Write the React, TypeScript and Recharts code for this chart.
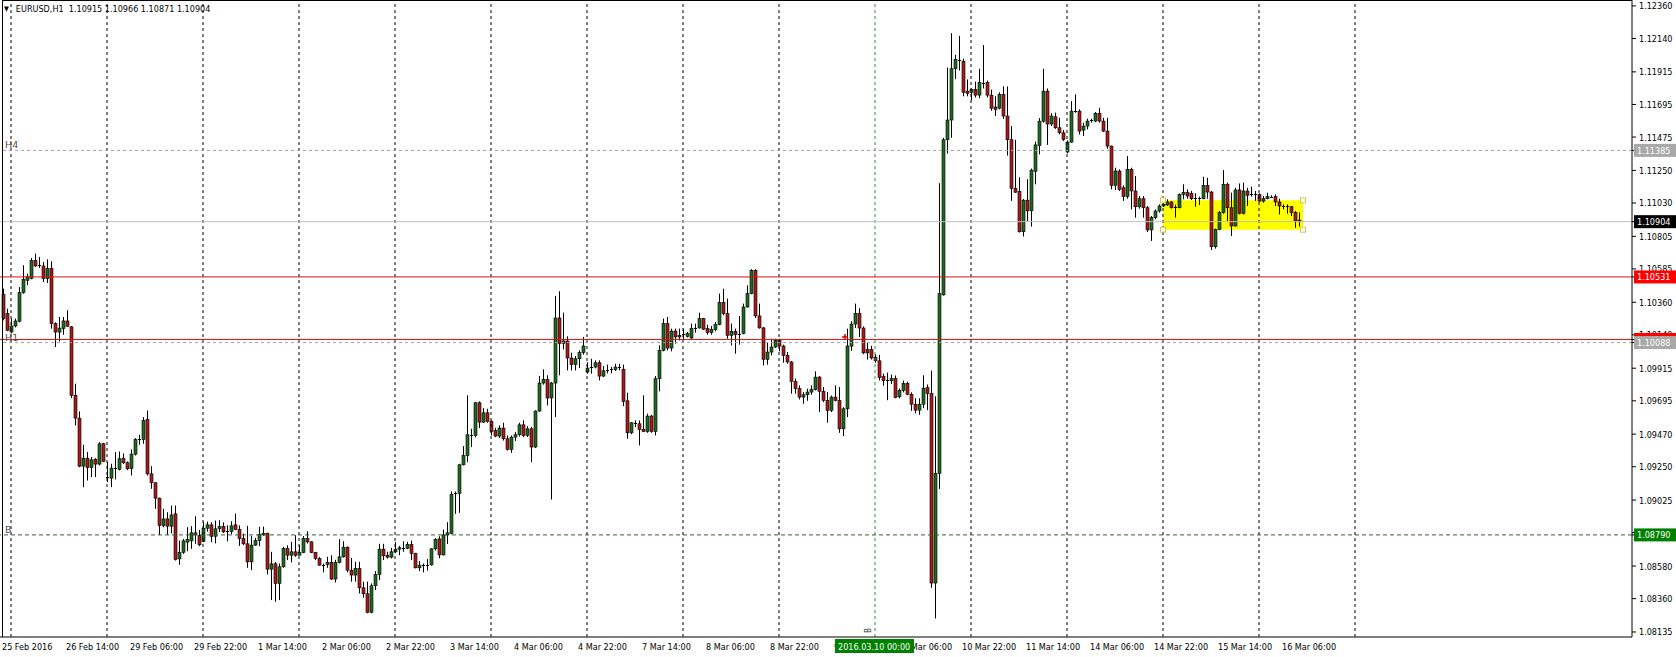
import React from "react";
import {
  ComposedChart,
  Bar,
  XAxis,
  YAxis,
  ReferenceLine,
  ReferenceArea,
  ReferenceDot,
} from "recharts";

type Ohlc = [number, number, number, number]; // open, high, low, close

// EURUSD H1 candles, one list per trading day
const feb25: Ohlc[] = [
  [1.10412, 1.10452, 1.10238, 1.1025],
  [1.10283, 1.10317, 1.10165, 1.10171],
];
const feb26: Ohlc[] = [
  [1.10159, 1.1025, 1.1015, 1.102],
  [1.102, 1.1025, 1.1019, 1.10234],
  [1.10232, 1.10463, 1.10225, 1.10425],
  [1.10425, 1.1061, 1.10418, 1.10515],
  [1.10508, 1.10553, 1.10475, 1.10531],
  [1.1052, 1.10659, 1.10515, 1.10641],
  [1.10641, 1.10689, 1.10598, 1.10605],
  [1.10612, 1.10666, 1.10592, 1.10608],
  [1.10605, 1.10632, 1.10497, 1.1052],
  [1.1052, 1.1065, 1.1049, 1.10587],
  [1.10587, 1.10637, 1.10182, 1.10216],
  [1.10216, 1.10225, 1.10058, 1.10159],
  [1.10159, 1.10261, 1.10096, 1.10186],
  [1.10182, 1.10261, 1.10141, 1.10234],
  [1.10234, 1.10306, 1.10194, 1.10198],
  [1.10194, 1.102, 1.09714, 1.09732],
  [1.09732, 1.0981, 1.09529, 1.09578],
  [1.09578, 1.09623, 1.09247, 1.09254],
  [1.09254, 1.09398, 1.09112, 1.09308],
  [1.09308, 1.09349, 1.09157, 1.09245],
  [1.09245, 1.09315, 1.0918, 1.09297],
  [1.09299, 1.09308, 1.0918, 1.09268],
  [1.09268, 1.09416, 1.09259, 1.09405],
  [1.09405, 1.0941, 1.09281, 1.09286],
];
const feb29: Ohlc[] = [
  [1.09173, 1.09281, 1.09146, 1.09178],
  [1.09173, 1.0927, 1.09112, 1.09241],
  [1.09241, 1.09349, 1.09164, 1.09236],
  [1.09232, 1.09353, 1.09225, 1.09304],
  [1.09306, 1.0934, 1.09268, 1.09277],
  [1.09277, 1.09286, 1.09227, 1.09236],
  [1.09238, 1.09367, 1.09191, 1.09335],
  [1.09335, 1.09443, 1.09326, 1.09434],
  [1.09434, 1.09466, 1.09398, 1.09439],
  [1.09434, 1.09585, 1.09405, 1.09563],
  [1.09569, 1.0963, 1.09191, 1.09202],
  [1.09202, 1.09254, 1.09101, 1.09142],
  [1.09142, 1.09146, 1.08966, 1.09038],
  [1.09038, 1.09042, 1.0879, 1.08853],
  [1.08853, 1.08966, 1.08842, 1.08898],
  [1.08898, 1.08943, 1.0879, 1.08849],
  [1.08849, 1.08988, 1.088, 1.08925],
  [1.08932, 1.08988, 1.08617, 1.08624],
  [1.08628, 1.08752, 1.08588, 1.08673],
  [1.08673, 1.08763, 1.08662, 1.0875],
  [1.08741, 1.08842, 1.0868, 1.08759],
  [1.0875, 1.08849, 1.08696, 1.08804],
  [1.08804, 1.08916, 1.0873, 1.0879],
  [1.08786, 1.08824, 1.08714, 1.08723],
];
const mar01: Ohlc[] = [
  [1.08745, 1.08876, 1.08741, 1.08835],
  [1.08835, 1.0888, 1.08813, 1.08858],
  [1.08858, 1.08876, 1.08741, 1.08781],
  [1.08781, 1.08887, 1.08733, 1.08831],
  [1.08833, 1.08889, 1.0881, 1.08846],
  [1.08846, 1.08875, 1.08803, 1.0881],
  [1.0881, 1.08855, 1.08747, 1.08814],
  [1.08812, 1.08882, 1.08796, 1.08851],
  [1.08858, 1.08934, 1.08823, 1.08828],
  [1.08828, 1.08855, 1.08716, 1.08765],
  [1.08765, 1.08799, 1.08721, 1.0873],
  [1.0873, 1.08851, 1.08568, 1.08608],
  [1.08608, 1.08783, 1.08552, 1.08721],
  [1.08721, 1.0877, 1.08716, 1.08752],
  [1.08752, 1.08844, 1.08714, 1.08792],
  [1.0879, 1.08846, 1.08783, 1.08801],
  [1.08801, 1.08805, 1.08523, 1.08559],
  [1.08559, 1.08676, 1.0835, 1.08595],
  [1.08595, 1.08608, 1.08339, 1.08463],
  [1.08463, 1.08597, 1.0835, 1.08575],
  [1.08575, 1.08709, 1.08568, 1.08698],
  [1.08698, 1.0872, 1.0862, 1.08653],
  [1.08653, 1.08743, 1.08604, 1.08676],
  [1.08676, 1.08788, 1.08642, 1.08653],
];
const mar02: Ohlc[] = [
  [1.08653, 1.0872, 1.08653, 1.08671],
  [1.08671, 1.08783, 1.08667, 1.08765],
  [1.08765, 1.08815, 1.08732, 1.08743],
  [1.08743, 1.08747, 1.08667, 1.08671],
  [1.08671, 1.08676, 1.0862, 1.08631],
  [1.08631, 1.0864, 1.08582, 1.08586],
  [1.08586, 1.08597, 1.08537, 1.0859],
  [1.0859, 1.08642, 1.08568, 1.08604],
  [1.08604, 1.08653, 1.08485, 1.08492],
  [1.08492, 1.08622, 1.08469, 1.08604],
  [1.08604, 1.08761, 1.08597, 1.08642],
  [1.08642, 1.08747, 1.08637, 1.08707],
  [1.08707, 1.08712, 1.08537, 1.08552],
  [1.08552, 1.08635, 1.08474, 1.08519],
  [1.08519, 1.08609, 1.08474, 1.08564],
  [1.08564, 1.08609, 1.08395, 1.08433],
  [1.08433, 1.08474, 1.08366, 1.08393],
  [1.08393, 1.08474, 1.08261, 1.08268],
  [1.08268, 1.08463, 1.08261, 1.08447],
  [1.08447, 1.08546, 1.08418, 1.08523],
  [1.08523, 1.0873, 1.08485, 1.08694],
  [1.08694, 1.0873, 1.0862, 1.08649],
  [1.08652, 1.08676, 1.08631, 1.0864],
  [1.0864, 1.08703, 1.08631, 1.08676],
];
const mar03: Ohlc[] = [
  [1.08676, 1.08743, 1.08667, 1.08694],
  [1.08694, 1.08716, 1.08653, 1.08703],
  [1.08703, 1.08747, 1.08676, 1.087],
  [1.087, 1.08743, 1.08694, 1.08725],
  [1.08725, 1.08752, 1.0862, 1.08665],
  [1.08665, 1.08669, 1.08564, 1.08568],
  [1.08568, 1.08613, 1.08546, 1.08586],
  [1.08586, 1.08597, 1.08537, 1.08588],
  [1.08586, 1.08628, 1.08549, 1.0859],
  [1.08588, 1.087, 1.08583, 1.08696],
  [1.08696, 1.08768, 1.08685, 1.08759],
  [1.08763, 1.08781, 1.08633, 1.08655],
  [1.08655, 1.08826, 1.08651, 1.0879],
  [1.0879, 1.08876, 1.08729, 1.08804],
  [1.088, 1.09083, 1.08794, 1.09065],
  [1.09065, 1.09083, 1.08932, 1.09072],
  [1.0907, 1.0927, 1.08939, 1.09263],
  [1.09263, 1.09389, 1.09259, 1.09326],
  [1.09326, 1.09732, 1.09281, 1.09466],
  [1.09466, 1.09506, 1.09383, 1.09461],
  [1.09461, 1.09687, 1.09448, 1.09682],
  [1.09682, 1.09691, 1.09511, 1.09551],
  [1.09551, 1.09646, 1.09547, 1.09614],
  [1.09614, 1.09641, 1.09547, 1.09556],
];
const mar04: Ohlc[] = [
  [1.09556, 1.09563, 1.09461, 1.09488],
  [1.09495, 1.09513, 1.0945, 1.09457],
  [1.09457, 1.09529, 1.09443, 1.09511],
  [1.09511, 1.09547, 1.09427, 1.09439],
  [1.09439, 1.09461, 1.0936, 1.09367],
  [1.09367, 1.09461, 1.09344, 1.0945],
  [1.0945, 1.09484, 1.09423, 1.09466],
  [1.09466, 1.09547, 1.09454, 1.09533],
  [1.09533, 1.09563, 1.0945, 1.09461],
  [1.09461, 1.09524, 1.0945, 1.09506],
  [1.09506, 1.09518, 1.09281, 1.09383],
  [1.09383, 1.0963, 1.09376, 1.09626],
  [1.09626, 1.09862, 1.09621, 1.09815],
  [1.09815, 1.09907, 1.09804, 1.0984],
  [1.0984, 1.09867, 1.09664, 1.09714],
  [1.09714, 1.09822, 1.09029, 1.09815],
  [1.09815, 1.10403, 1.09585, 1.10254],
  [1.10254, 1.10434, 1.09867, 1.10083],
  [1.10099, 1.1029, 1.10042, 1.10083],
  [1.10099, 1.1013, 1.099, 1.09984],
  [1.09984, 1.1002, 1.099, 1.09939],
  [1.09939, 1.09997, 1.099, 1.09979],
  [1.09979, 1.10036, 1.09916, 1.1002],
  [1.1002, 1.10126, 1.10007, 1.10065],
];
const mar07: Ohlc[] = [
  [1.09889, 1.09956, 1.09878, 1.09916],
  [1.09916, 1.09979, 1.09878, 1.09923],
  [1.09923, 1.09968, 1.09914, 1.09952],
  [1.09952, 1.09968, 1.09833, 1.09862],
  [1.09862, 1.0993, 1.09855, 1.09898],
  [1.09898, 1.09939, 1.0988, 1.09903],
  [1.09903, 1.09923, 1.0988, 1.09907],
  [1.09907, 1.09945, 1.09896, 1.09923],
  [1.09923, 1.09945, 1.099, 1.09916],
  [1.09907, 1.09939, 1.09659, 1.09691],
  [1.09695, 1.09749, 1.09439, 1.09479],
  [1.09479, 1.09551, 1.0947, 1.09547],
  [1.09547, 1.09563, 1.09518, 1.0954],
  [1.0954, 1.09562, 1.09394, 1.09502],
  [1.09502, 1.09732, 1.09484, 1.09488],
  [1.09488, 1.09608, 1.09479, 1.09592],
  [1.09592, 1.09601, 1.09479, 1.09488],
  [1.09488, 1.09862, 1.09461, 1.09844],
  [1.09844, 1.10069, 1.09759, 1.10036],
  [1.10036, 1.1025, 1.10029, 1.10216],
  [1.10216, 1.10261, 1.10036, 1.10051],
  [1.10051, 1.10182, 1.10029, 1.10166],
  [1.10166, 1.10182, 1.10081, 1.10126],
  [1.10126, 1.10182, 1.10103, 1.10137],
];
const mar08: Ohlc[] = [
  [1.10137, 1.10182, 1.1011, 1.10144],
  [1.1013, 1.1016, 1.10123, 1.10148],
  [1.10119, 1.10216, 1.1011, 1.10182],
  [1.10182, 1.10216, 1.10155, 1.10187],
  [1.10187, 1.1029, 1.10182, 1.1025],
  [1.1025, 1.10254, 1.10173, 1.10178],
  [1.10182, 1.10209, 1.10141, 1.10155],
  [1.10155, 1.102, 1.10141, 1.10178],
  [1.10175, 1.10227, 1.10164, 1.10209],
  [1.10209, 1.10418, 1.10205, 1.10358],
  [1.10358, 1.10452, 1.10272, 1.10283],
  [1.10283, 1.10385, 1.10114, 1.10137],
  [1.10137, 1.10216, 1.10069, 1.10164],
  [1.10164, 1.10182, 1.10013, 1.10141],
  [1.10141, 1.10267, 1.10074, 1.10148],
  [1.10148, 1.10351, 1.10144, 1.10328],
  [1.10328, 1.10475, 1.10324, 1.10418],
  [1.10418, 1.10583, 1.10414, 1.10576],
  [1.10576, 1.10583, 1.10254, 1.10268],
  [1.10268, 1.10351, 1.10182, 1.10187],
  [1.10187, 1.10193, 1.09934, 1.09975],
  [1.09975, 1.10092, 1.09939, 1.10024],
  [1.10024, 1.10114, 1.10002, 1.10058],
  [1.10058, 1.10114, 1.10051, 1.10103],
];
const mar09: Ohlc[] = [
  [1.10103, 1.10114, 1.10029, 1.10065],
  [1.10065, 1.10074, 1.09952, 1.10002],
  [1.10002, 1.10024, 1.09945, 1.09957],
  [1.09957, 1.09963, 1.09743, 1.09826],
  [1.09826, 1.09844, 1.09743, 1.09777],
  [1.09777, 1.09799, 1.09704, 1.0972],
  [1.0972, 1.09754, 1.09675, 1.09736],
  [1.09736, 1.09777, 1.09695, 1.09754],
  [1.09754, 1.09799, 1.09736, 1.09772],
  [1.09772, 1.09894, 1.09765, 1.09855],
  [1.09855, 1.09862, 1.09619, 1.09759],
  [1.09759, 1.09788, 1.09686, 1.09698],
  [1.09698, 1.09754, 1.09547, 1.0963],
  [1.0963, 1.09731, 1.09619, 1.0972],
  [1.0972, 1.09799, 1.09691, 1.09698],
  [1.09698, 1.09788, 1.09479, 1.09506],
  [1.09506, 1.09652, 1.09457, 1.09641],
  [1.09641, 1.10182, 1.09585, 1.10065],
  [1.10064, 1.10232, 1.10032, 1.10213],
  [1.10213, 1.10351, 1.10186, 1.10285],
  [1.10285, 1.1032, 1.10125, 1.10186],
  [1.10186, 1.10197, 1.1001, 1.10018],
  [1.1004, 1.10085, 1.09973, 1.10018],
  [1.1004, 1.10066, 1.09974, 1.09984],
];
const mar10: Ohlc[] = [
  [1.0999, 1.1001, 1.09952, 1.09965],
  [1.09965, 1.10005, 1.09832, 1.09851],
  [1.09859, 1.09878, 1.09797, 1.09832],
  [1.09832, 1.09885, 1.09699, 1.09835],
  [1.0983, 1.09872, 1.09808, 1.09845],
  [1.09845, 1.09866, 1.09712, 1.09717],
  [1.09722, 1.09778, 1.09712, 1.09765],
  [1.09765, 1.09832, 1.09752, 1.09813],
  [1.09813, 1.09824, 1.09733, 1.09739],
  [1.09739, 1.09752, 1.09627, 1.09672],
  [1.09672, 1.09712, 1.09611, 1.09632],
  [1.09632, 1.09712, 1.096, 1.09672],
  [1.09672, 1.09867, 1.09645, 1.09779],
  [1.09784, 1.09805, 1.09632, 1.09744],
  [1.09744, 1.09899, 1.08433, 1.08465],
  [1.08465, 1.09725, 1.08226, 1.09206],
  [1.09206, 1.11164, 1.09099, 1.10418],
  [1.1041, 1.1147, 1.10405, 1.11457],
  [1.11457, 1.11944, 1.11364, 1.1159],
  [1.1159, 1.12176, 1.1147, 1.11936],
  [1.11936, 1.1203, 1.11866, 1.11998],
  [1.11998, 1.12158, 1.11924, 1.1199],
  [1.11987, 1.12003, 1.1175, 1.11777],
  [1.11785, 1.11864, 1.1175, 1.11769],
];
const mar11: Ohlc[] = [
  [1.11777, 1.11803, 1.11724, 1.11795],
  [1.11795, 1.11849, 1.11742, 1.11758],
  [1.11758, 1.11936, 1.11737, 1.11843],
  [1.11843, 1.12096, 1.11803, 1.1184],
  [1.11843, 1.11856, 1.11742, 1.11758],
  [1.11758, 1.11795, 1.11652, 1.1167],
  [1.11678, 1.1175, 1.11617, 1.11662],
  [1.1167, 1.11777, 1.11662, 1.11763],
  [1.11763, 1.11817, 1.11598, 1.11617],
  [1.11617, 1.11817, 1.1135, 1.11457],
  [1.11457, 1.1155, 1.11044, 1.11129],
  [1.11129, 1.11457, 1.11098, 1.11103],
  [1.11108, 1.11204, 1.10831, 1.10836],
  [1.10836, 1.11057, 1.10804, 1.11049],
  [1.11049, 1.11191, 1.10905, 1.10977],
  [1.10977, 1.11262, 1.10871, 1.11252],
  [1.11244, 1.11444, 1.11156, 1.11422],
  [1.11417, 1.11603, 1.11358, 1.11582],
  [1.11582, 1.11936, 1.11572, 1.11785],
  [1.11785, 1.11803, 1.11422, 1.11563],
  [1.11563, 1.11635, 1.1155, 1.11617],
  [1.11612, 1.1164, 1.1153, 1.11538],
  [1.11538, 1.11605, 1.11493, 1.11504],
  [1.11504, 1.11522, 1.11448, 1.11459],
];
const mar14: Ohlc[] = [
  [1.11374, 1.11452, 1.11365, 1.11441],
  [1.11441, 1.11718, 1.11437, 1.1165],
  [1.1165, 1.11763, 1.11639, 1.11654],
  [1.1165, 1.11662, 1.11493, 1.11515],
  [1.11522, 1.11572, 1.11482, 1.11549],
  [1.11549, 1.11599, 1.11527, 1.11583],
  [1.11583, 1.11599, 1.11572, 1.11587],
  [1.11583, 1.11644, 1.11576, 1.11635],
  [1.11635, 1.11673, 1.11572, 1.11583],
  [1.11583, 1.11605, 1.11509, 1.11515],
  [1.11515, 1.11605, 1.11396, 1.11414],
  [1.11414, 1.11418, 1.11122, 1.11149],
  [1.11149, 1.11268, 1.11118, 1.11246],
  [1.11246, 1.11257, 1.11111, 1.11122],
  [1.11133, 1.11149, 1.11044, 1.11073],
  [1.11073, 1.11347, 1.11059, 1.11257],
  [1.11257, 1.11268, 1.10987, 1.11111],
  [1.11111, 1.11212, 1.10931, 1.11005],
  [1.11005, 1.11077, 1.10992, 1.11059],
  [1.11059, 1.11077, 1.10931, 1.10998],
  [1.10998, 1.1101, 1.10834, 1.10848],
  [1.10848, 1.10942, 1.10774, 1.10931],
  [1.10931, 1.10987, 1.1092, 1.10976],
  [1.10976, 1.11021, 1.10965, 1.1101],
];
const mar15: Ohlc[] = [
  [1.1101, 1.11048, 1.11003, 1.11021],
  [1.11017, 1.11055, 1.1101, 1.11037],
  [1.11037, 1.11044, 1.10992, 1.10998],
  [1.10998, 1.11019, 1.10931, 1.11],
  [1.10998, 1.11095, 1.10994, 1.11088],
  [1.11088, 1.11156, 1.11055, 1.111],
  [1.111, 1.11122, 1.11059, 1.11077],
  [1.11095, 1.11111, 1.1105, 1.11059],
  [1.11067, 1.11095, 1.11005, 1.11059],
  [1.11059, 1.11073, 1.11017, 1.11066],
  [1.11059, 1.11207, 1.11055, 1.11149],
  [1.11149, 1.112, 1.11059, 1.11104],
  [1.11104, 1.11111, 1.10713, 1.10735],
  [1.10735, 1.10857, 1.10722, 1.10852],
  [1.10852, 1.10976, 1.10846, 1.10965],
  [1.10965, 1.11252, 1.10958, 1.11156],
  [1.11156, 1.11167, 1.10908, 1.10998],
  [1.10998, 1.111, 1.10807, 1.10875],
  [1.10875, 1.11133, 1.1087, 1.11118],
  [1.11118, 1.11162, 1.10953, 1.1096],
  [1.1096, 1.11167, 1.10953, 1.11111],
  [1.11111, 1.11133, 1.1101, 1.11082],
  [1.11082, 1.1114, 1.11073, 1.11088],
  [1.11088, 1.11111, 1.11044, 1.11086],
];
const mar16: Ohlc[] = [
  [1.11088, 1.11095, 1.11037, 1.11043],
  [1.11043, 1.11077, 1.11032, 1.11059],
  [1.11059, 1.111, 1.11055, 1.11073],
  [1.11073, 1.11082, 1.11066, 1.11071],
  [1.11073, 1.11088, 1.1101, 1.11037],
  [1.11037, 1.11059, 1.10953, 1.1101],
  [1.1101, 1.11021, 1.10987, 1.11008],
  [1.11008, 1.11021, 1.10958, 1.11],
  [1.11005, 1.1101, 1.10942, 1.10965],
  [1.10965, 1.10976, 1.10863, 1.10908],
  [1.10915, 1.10966, 1.10871, 1.10904],
];

const days = [feb25, feb26, feb29, mar01, mar02, mar03, mar04, mar07, mar08, mar09, mar10, mar11, mar14, mar15, mar16];

// price scale labels
const priceTicks = [
  1.1236, 1.1214, 1.11915, 1.11695, 1.11475, 1.1125, 1.1103, 1.10805, 1.10585, 1.1036,
  1.1014, 1.09915, 1.09695, 1.0947, 1.0925, 1.09025, 1.08805, 1.0858, 1.0836, 1.08135,
];

// horizontal levels and their price tags
const levelPrices = [1.11385, 1.10904, 1.10531, 1.10109, 1.10088, 1.0879];
const levelColors = ["#a0a0a0", "#c0c0c0", "#e01010", "#e01010", "#a0a0a0", "#2a6a2a"];
const levelDash = ["3 3", undefined, undefined, undefined, "3 3", "4 3"];
const levelNames = ["H4", "", "", "", "H1", "B"];
const tagColors = ["#a9a9a9", "#000000", "#ff0000", "#ff0000", "#a9a9a9", "#008000"];

// time axis
const timeIdx = [0, 16, 32, 48, 64, 80, 96, 112, 128, 144, 160, 176, 192, 208, 224, 240, 256, 272, 288, 304, 320];
const timeText = [
  "25 Feb 2016", "26 Feb 14:00", "29 Feb 06:00", "29 Feb 22:00", "1 Mar 14:00", "2 Mar 06:00",
  "2 Mar 22:00", "3 Mar 14:00", "4 Mar 06:00", "4 Mar 22:00", "7 Mar 14:00", "8 Mar 06:00",
  "8 Mar 22:00", "9 Mar 14:00", "10 Mar 06:00", "10 Mar 22:00", "11 Mar 14:00", "14 Mar 06:00",
  "14 Mar 22:00", "15 Mar 14:00", "16 Mar 06:00",
];
const dayStartIdx = [2, 26, 50, 74, 98, 122, 146, 170, 194, 242, 266, 290, 314, 338];
const cursorIdx = 218;
const cursorText = "2016.03.10 00:00";
const cursorName = "B";

// yellow box drawn on the last session
const boxFrom = 290;
const boxTo = 325;
const boxLow = 1.1085;
const boxHigh = 1.11048;

const header = "EURUSD,H1  1.10915 1.10966 1.10871 1.10904";

const FONT = "'DejaVu Sans Condensed', 'Liberation Sans', Arial, sans-serif";
const LABEL_FONT = "'DejaVu Sans', Verdana, sans-serif";
const FS = 9;
const BULL = "#1f6a1f";
const BEAR = "#a81a1a";

const data = days.flat().map(([o, h, l, c], i) => ({ i, o, h, l, c, range: [l, h] }));

function Candle(props: any) {
  const { x, y, width, height, payload } = props;
  if (x == null || y == null) return null;
  const top = Math.min(y, y + height);
  const hgt = Math.abs(height);
  const span = payload.h - payload.l || 1e-9;
  const py = (p: number) => top + ((payload.h - p) / span) * hgt;
  const cx = Math.round(x + width / 2) + 0.5;
  const yo = py(payload.o);
  const yc = py(payload.c);
  const bt = Math.min(yo, yc);
  const bb = Math.max(yo, yc);
  const bull = payload.c >= payload.o;
  return (
    <g>
      <line x1={cx} x2={cx} y1={top} y2={top + hgt} stroke="#000" strokeWidth={1} />
      {bb - bt < 1.2 ? (
        <line x1={cx - 1.5} x2={cx + 1.5} y1={Math.round(bt) + 0.5} y2={Math.round(bt) + 0.5} stroke="#000" />
      ) : (
        <rect
          x={cx - 1.5}
          y={bt}
          width={3}
          height={bb - bt}
          fill={bull ? BULL : BEAR}
          stroke="#000"
          strokeWidth={0.6}
        />
      )}
    </g>
  );
}

function PriceTick(props: any) {
  const { x, y, payload } = props;
  const k = levelPrices.indexOf(payload.value);
  if (k >= 0) {
    return (
      <g>
        <rect x={1634} y={y - 6.5} width={42} height={13} fill={tagColors[k]} />
        <text x={1637} y={y + 3.5} fontSize={FS} fontFamily={FONT} fill="#fff">
          {payload.value.toFixed(5)}
        </text>
      </g>
    );
  }
  return (
    <text x={x} y={y + 3.5} fontSize={FS} fontFamily={FONT} fill="#000">
      {payload.value.toFixed(5)}
    </text>
  );
}

function TimeTick(props: any) {
  const { x, payload } = props;
  if (payload.value === cursorIdx) {
    return (
      <g>
        <rect x={x - 40} y={639} width={79} height={14} fill="#008000" />
        <text x={x - 37} y={650} fontSize={FS} fontFamily={FONT} fill="#fff">
          {cursorText}
        </text>
      </g>
    );
  }
  const k = timeIdx.indexOf(payload.value);
  return (
    <text x={x - 1} y={650} fontSize={FS} fontFamily={FONT} fill="#000">
      {timeText[k]}
    </text>
  );
}

function SideLabel(props: any) {
  const { viewBox, text } = props;
  if (!viewBox || !text) return null;
  return (
    <text x={5} y={viewBox.y - 2} fontSize={9.5} fontFamily={LABEL_FONT} fill="#505050">
      {text}
    </text>
  );
}

function CursorName(props: any) {
  const { viewBox } = props;
  if (!viewBox) return null;
  const x = viewBox.x - 4;
  const y = viewBox.y + viewBox.height - 4;
  return (
    <text x={x} y={y} fontSize={8} fontFamily={FONT} fill="#333" transform={`rotate(-90 ${x} ${y})`}>
      {cursorName}
    </text>
  );
}

function Handle(props: any) {
  const { cx, cy } = props;
  return <rect x={cx - 2.5} y={cy - 2.5} width={5} height={5} fill="#fff" stroke="#d8c840" strokeWidth={1} />;
}

function Mark(props: any) {
  const { cx, cy } = props;
  return (
    <g stroke="#e00000" strokeWidth={1.5}>
      <line x1={cx - 3} x2={cx + 3} y1={cy} y2={cy} />
      <line x1={cx} x2={cx} y1={cy - 3} y2={cy + 3} />
    </g>
  );
}

export default function App() {
  return (
    <div style={{ position: "relative", width: 1676, height: 657, background: "#fff" }}>
      <style>{"body{margin:0;background:#fff}"}</style>
      <ComposedChart width={1676} height={657} data={data} margin={{ top: 0, right: 0, bottom: 0, left: 0 }}>
        <XAxis
          type="number"
          dataKey="i"
          domain={[-0.75, 407.25]}
          allowDataOverflow
          ticks={[...timeIdx, cursorIdx]}
          interval={0}
          tick={<TimeTick />}
          tickLine={false}
          axisLine={{ stroke: "#000" }}
          height={20}
        />
        <YAxis
          type="number"
          orientation="right"
          domain={[1.08101, 1.124]}
          allowDataOverflow
          ticks={[...priceTicks, ...levelPrices]}
          interval={0}
          tick={<PriceTick />}
          tickLine={{ stroke: "#000" }}
          tickSize={4}
          tickMargin={3}
          axisLine={{ stroke: "#000" }}
          width={44}
        />
        <ReferenceArea x1={boxFrom} x2={boxTo} y1={boxLow} y2={boxHigh} fill="#ffff00" fillOpacity={1} stroke="none" />
        {dayStartIdx.map((d) => (
          <ReferenceLine key={"g" + d} x={d} stroke="#000" strokeDasharray="3 3" />
        ))}
        <ReferenceLine x={cursorIdx} stroke="#2e8b2e" strokeDasharray="3 3" label={<CursorName />} />
        {levelPrices.map((p, k) => (
          <ReferenceLine
            key={"l" + k}
            y={p}
            stroke={levelColors[k]}
            strokeDasharray={levelDash[k]}
            label={<SideLabel text={levelNames[k]} />}
          />
        ))}
        <Bar dataKey="range" barSize={3} shape={<Candle />} isAnimationActive={false} />
        <ReferenceDot x={boxFrom} y={boxHigh} shape={<Handle />} />
        <ReferenceDot x={boxTo} y={boxHigh} shape={<Handle />} />
        <ReferenceDot x={boxFrom} y={boxLow} shape={<Handle />} />
        <ReferenceDot x={boxTo} y={boxLow} shape={<Handle />} />
        <ReferenceDot x={210.5} y={1.10126} shape={<Mark />} />
      </ComposedChart>
      <div style={{ position: "absolute", left: 2, top: 0, width: 1, height: 637, background: "#000" }} />
      <div style={{ position: "absolute", left: 2, top: 0, width: 1630, height: 1, background: "#000" }} />
      <div
        style={{
          position: "absolute",
          left: 4,
          top: 4,
          fontFamily: FONT,
          fontSize: FS,
          color: "#000",
          whiteSpace: "pre",
          display: "flex",
          alignItems: "center",
          gap: 7,
        }}
      >
        <span style={{ fontSize: 7 }}>▼</span>
        <span>{header}</span>
      </div>
    </div>
  );
}
